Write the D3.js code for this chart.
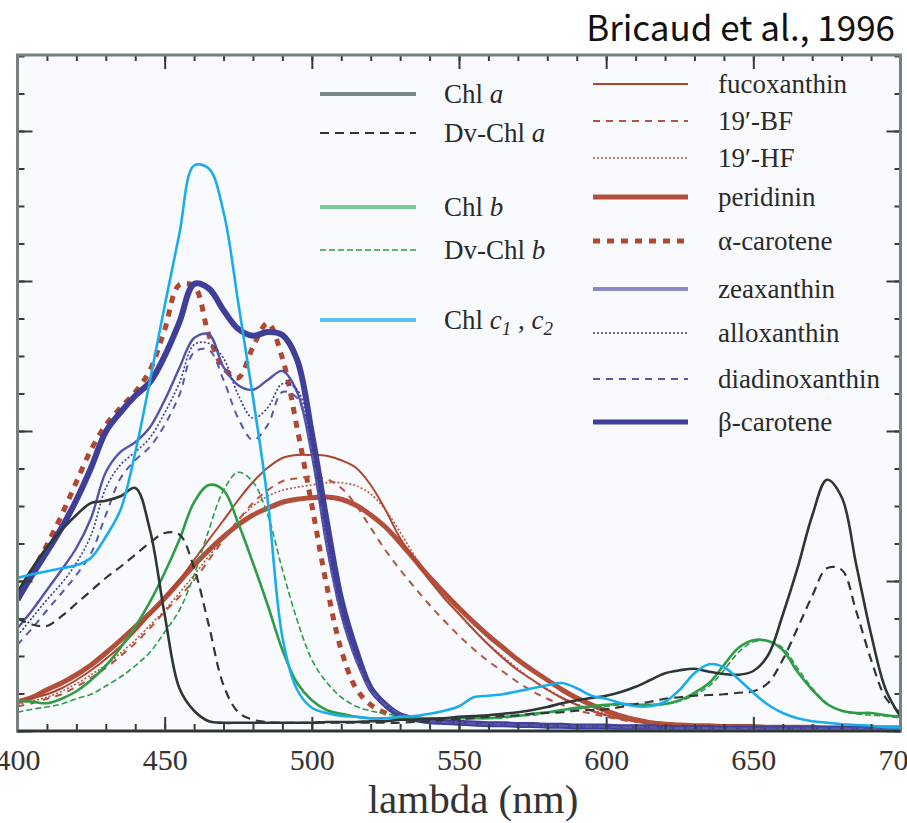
<!DOCTYPE html>
<html>
<head>
<meta charset="utf-8">
<script src="https://cdn.jsdelivr.net/npm/d3@7"></script>
<style>
  body { margin: 0; background: #fff; }
  svg { display: block; }
</style>
</head>
<body>
<svg id="chart" width="907" height="823"></svg>
<script>
// wavelength grid (nm), 5 nm steps
const wavelengths = [400, 405, 410, 415, 420, 425, 430, 435, 440, 445,
  450, 455, 460, 465, 470, 475, 480, 485, 490, 495,
  500, 505, 510, 515, 520, 525, 530, 535, 540, 545,
  550, 555, 560, 565, 570, 575, 580, 585, 590, 595,
  600, 605, 610, 615, 620, 625, 630, 635, 640, 645,
  650, 655, 660, 665, 670, 675, 680, 685, 690, 695, 700];

// specific absorption (x 1e-3)
const chlA = [18.5, 21.7, 24.5, 26.8, 28.8, 30.4, 30.7, 31.3, 32.4, 26.8,
  15.5, 5.7, 2.7, 1.3, 1.1, 1.1, 1.1, 1.1, 1.1, 1.1,
  1.1, 1.2, 1.2, 1.2, 1.3, 1.3, 1.5, 1.5, 1.6, 1.7,
  1.9, 2.0, 2.1, 2.3, 2.5, 2.8, 3.2, 3.7, 4.1, 4.4,
  4.7, 5.2, 5.9, 6.8, 7.7, 8.1, 8.3, 7.9, 7.6, 7.5,
  8.0, 10.1, 15.5, 21.7, 28.7, 33.5, 31.2, 22.1, 12.9, 5.5, 1.9];
const dvChlA = [15.0, 14.2, 14.0, 15.3, 17.0, 18.7, 20.4, 21.9, 23.5, 25.1,
  26.4, 26.2, 21.7, 14.1, 6.1, 2.5, 1.5, 1.2, 1.1, 1.1,
  1.1, 1.1, 1.1, 1.1, 1.1, 1.1, 1.1, 1.2, 1.3, 1.5,
  1.6, 1.7, 1.9, 2.0, 2.1, 2.3, 2.4, 2.5, 2.7, 2.8,
  2.9, 3.2, 3.6, 3.9, 4.3, 4.5, 4.7, 4.8, 4.9, 5.1,
  5.3, 6.4, 9.5, 13.7, 18.0, 21.7, 21.5, 15.9, 9.5, 4.4, 2.4];
const chlB = [4.1, 3.9, 3.7, 4.3, 5.3, 6.8, 8.7, 11.1, 13.9, 17.2,
  21.1, 25.5, 30.5, 32.8, 32.1, 27.7, 22.4, 16.8, 10.8, 6.4,
  4.1, 2.8, 2.3, 1.9, 1.7, 1.7, 1.7, 1.7, 1.7, 1.7,
  1.7, 1.7, 1.7, 1.9, 2.0, 2.3, 2.5, 2.8, 3.1, 3.3,
  3.5, 3.6, 3.5, 3.5, 3.6, 4.1, 5.1, 6.4, 8.8, 11.1,
  12.1, 12.0, 10.8, 7.9, 5.5, 3.6, 2.7, 2.4, 2.4, 2.1, 1.9];
const dvChlB = [2.5, 2.9, 3.2, 3.6, 4.3, 4.9, 6.0, 7.2, 8.7, 10.5,
  13.2, 16.1, 20.8, 26.8, 32.1, 34.5, 33.2, 28.8, 21.5, 14.8,
  9.5, 6.5, 4.5, 3.3, 2.7, 2.3, 2.0, 1.9, 1.7, 1.7,
  1.7, 1.7, 1.7, 1.7, 2.0, 2.1, 2.4, 2.7, 2.9, 3.2,
  3.3, 3.5, 3.5, 3.5, 3.6, 4.0, 4.8, 6.0, 8.1, 10.5,
  11.9, 12.0, 11.1, 8.4, 5.7, 3.7, 2.7, 2.3, 2.1, 2.0, 1.7];
const chlC = [20.4, 20.9, 21.3, 21.7, 22.1, 23.1, 25.9, 29.5, 37.1, 46.7,
  56.7, 66.3, 75.4, 75.0, 69.2, 57.1, 44.5, 30.8, 12.5, 5.5,
  3.1, 2.4, 2.0, 1.9, 1.7, 1.7, 1.9, 2.0, 2.3, 2.7,
  3.3, 4.5, 4.7, 4.9, 5.3, 5.7, 6.1, 6.4, 5.7, 4.7,
  4.3, 3.7, 3.3, 3.3, 3.9, 5.5, 7.7, 8.9, 8.5, 6.9,
  5.1, 3.5, 2.4, 1.7, 1.3, 1.1, 0.9, 0.8, 0.7, 0.5, 0.5];
const fucoxanthin = [4.1, 4.4, 4.9, 5.7, 6.8, 8.1, 9.6, 11.3, 13.3, 15.5,
  17.7, 20.1, 22.8, 25.5, 28.1, 30.8, 33.2, 35.1, 36.4, 36.8,
  36.8, 36.7, 36.1, 35.1, 32.8, 29.5, 25.7, 22.8, 20.1, 17.7,
  15.6, 13.5, 11.5, 9.7, 8.1, 6.8, 5.5, 4.4, 3.5, 2.7,
  2.1, 1.6, 1.3, 1.1, 0.9, 0.8, 0.8, 0.7, 0.7, 0.7,
  0.6, 0.6, 0.6, 0.6, 0.5, 0.5, 0.5, 0.5, 0.4, 0.4, 0.4];
const bf19 = [3.3, 3.7, 4.3, 4.9, 5.9, 7.1, 8.4, 10.0, 11.7, 13.7,
  15.9, 17.9, 20.1, 22.8, 25.5, 28.1, 30.4, 32.1, 33.3, 33.7,
  33.9, 33.6, 32.4, 30.1, 27.1, 24.1, 21.5, 19.1, 16.8, 14.7,
  12.7, 10.9, 9.3, 7.9, 6.5, 5.3, 4.3, 3.5, 2.8, 2.3,
  1.9, 1.5, 1.2, 1.1, 0.9, 0.8, 0.8, 0.7, 0.7, 0.6,
  0.6, 0.6, 0.5, 0.5, 0.5, 0.5, 0.4, 0.4, 0.4, 0.4, 0.4];
const hf19 = [3.6, 4.0, 4.5, 5.3, 6.3, 7.5, 8.8, 10.4, 12.1, 14.1,
  16.1, 18.4, 20.8, 23.3, 25.7, 28.1, 30.0, 31.3, 32.1, 32.5,
  32.8, 33.1, 33.1, 32.7, 31.6, 29.5, 26.5, 23.3, 20.4, 17.9,
  15.6, 13.5, 11.6, 9.9, 8.3, 6.8, 5.6, 4.5, 3.6, 2.8,
  2.3, 1.7, 1.5, 1.2, 1.1, 0.9, 0.8, 0.7, 0.7, 0.6,
  0.6, 0.6, 0.5, 0.5, 0.5, 0.5, 0.4, 0.4, 0.4, 0.4, 0.4];
const peridinin = [3.9, 4.5, 5.5, 6.4, 7.5, 8.8, 10.4, 12.1, 13.9, 15.7,
  17.7, 19.9, 22.1, 24.1, 25.9, 27.5, 28.8, 29.7, 30.5, 30.9,
  31.1, 31.2, 30.9, 30.1, 28.8, 27.2, 25.1, 22.8, 20.5, 18.4,
  16.4, 14.5, 12.7, 11.1, 9.5, 8.1, 6.8, 5.5, 4.4, 3.5,
  2.7, 2.0, 1.5, 1.1, 0.9, 0.8, 0.7, 0.7, 0.6, 0.6,
  0.6, 0.5, 0.5, 0.5, 0.5, 0.4, 0.4, 0.4, 0.4, 0.4, 0.4];
const alphaCarotene = [17.7, 21.2, 24.8, 28.8, 33.2, 37.5, 40.8, 43.1, 45.2, 48.1,
  53.5, 59.5, 59.3, 52.8, 48.4, 47.1, 51.2, 54.4, 49.7, 40.4,
  30.1, 19.5, 10.8, 5.7, 3.5, 2.4, 1.7, 1.5, 1.3, 1.2,
  1.1, 1.0, 0.9, 0.9, 0.8, 0.8, 0.7, 0.7, 0.6, 0.6,
  0.6, 0.5, 0.5, 0.5, 0.5, 0.4, 0.4, 0.4, 0.4, 0.4,
  0.4, 0.4, 0.4, 0.3, 0.3, 0.3, 0.3, 0.3, 0.3, 0.3, 0.3];
const zeaxanthin = [13.7, 16.1, 18.8, 21.5, 24.4, 28.4, 34.5, 37.2, 38.5, 40.5,
  44.1, 48.4, 52.4, 52.9, 48.5, 46.1, 45.5, 46.8, 48.0, 45.2,
  36.8, 24.8, 15.5, 9.5, 5.5, 3.5, 2.3, 1.7, 1.3, 1.2,
  1.1, 1.0, 0.9, 0.9, 0.8, 0.8, 0.7, 0.7, 0.6, 0.6,
  0.6, 0.5, 0.5, 0.5, 0.4, 0.4, 0.4, 0.4, 0.3, 0.3,
  0.3, 0.3, 0.3, 0.3, 0.3, 0.3, 0.3, 0.3, 0.3, 0.3, 0.3];
const alloxanthin = [12.7, 15.1, 17.5, 19.7, 22.4, 26.1, 32.4, 35.5, 37.2, 39.1,
  42.4, 46.4, 51.5, 51.7, 49.7, 44.8, 41.7, 43.1, 46.3, 45.5,
  37.5, 25.5, 15.9, 9.7, 5.5, 3.5, 2.3, 1.7, 1.3, 1.2,
  1.1, 1.0, 0.9, 0.9, 0.8, 0.8, 0.7, 0.7, 0.6, 0.6,
  0.6, 0.5, 0.5, 0.5, 0.4, 0.4, 0.4, 0.4, 0.3, 0.3,
  0.3, 0.3, 0.3, 0.3, 0.3, 0.3, 0.3, 0.3, 0.3, 0.3, 0.3];
const diadinoxanthin = [11.5, 13.7, 16.1, 18.4, 20.8, 23.7, 28.8, 33.7, 36.1, 37.9,
  40.8, 44.8, 50.5, 50.8, 46.8, 41.7, 38.8, 40.8, 45.2, 44.4,
  37.2, 24.8, 15.5, 9.5, 5.5, 3.5, 2.3, 1.7, 1.3, 1.2,
  1.1, 1.0, 0.9, 0.9, 0.8, 0.8, 0.7, 0.7, 0.6, 0.6,
  0.6, 0.5, 0.5, 0.5, 0.4, 0.4, 0.4, 0.4, 0.3, 0.3,
  0.3, 0.3, 0.3, 0.3, 0.3, 0.3, 0.3, 0.3, 0.3, 0.3, 0.3];
const betaCarotene = [17.5, 20.8, 23.9, 27.1, 30.8, 35.1, 39.9, 42.5, 44.7, 46.5,
  50.0, 54.5, 59.6, 59.0, 56.1, 53.6, 52.7, 53.2, 52.8, 49.5,
  39.7, 28.1, 17.5, 10.8, 5.7, 3.5, 2.1, 1.6, 1.3, 1.2,
  1.1, 1.0, 0.9, 0.9, 0.8, 0.8, 0.7, 0.7, 0.6, 0.6,
  0.6, 0.5, 0.5, 0.5, 0.4, 0.4, 0.4, 0.4, 0.3, 0.3,
  0.3, 0.3, 0.3, 0.3, 0.3, 0.3, 0.3, 0.3, 0.3, 0.3, 0.3];

const xMajorTicks = [400, 450, 500, 550, 600, 650, 700];

// label parts: [text, italic, subscript]
const pigments = [
  { values: chlA, label: [["Chl ", 0, 0], ["a", 1, 0]], color: "#2e3636", width: 2.6, lcolor: "#7b8686", lwidth: 4, col: 0, ly: 94 },
  { values: dvChlA, label: [["Dv-Chl ", 0, 0], ["a", 1, 0]], color: "#2e3636", width: 2.2, dash: "9,6", col: 0, ly: 133 },
  { values: chlB, label: [["Chl ", 0, 0], ["b", 1, 0]], color: "#2f9c47", width: 2.6, lcolor: "#78cb93", lwidth: 4, col: 0, ly: 207 },
  { values: dvChlB, label: [["Dv-Chl ", 0, 0], ["b", 1, 0]], color: "#2f9c47", width: 1.6, dash: "6,3", col: 0, ly: 250 },
  { values: chlC, label: [["Chl ", 0, 0], ["c", 1, 0], ["1", 1, 1], [" , ", 0, 0], ["c", 1, 0], ["2", 1, 1]], color: "#1badea", width: 2.6, lcolor: "#5bc4ee", lwidth: 4, col: 0, ly: 320 },
  { values: fucoxanthin, label: [["fucoxanthin", 0, 0]], color: "#b0452f", width: 2, col: 1, ly: 84 },
  { values: bf19, label: [["19\u2032-BF", 0, 0]], color: "#b5553f", width: 2, dash: "7,6", col: 1, ly: 121 },
  { values: hf19, label: [["19\u2032-HF", 0, 0]], color: "#b5553f", width: 1.6, dash: "2,2", col: 1, ly: 158 },
  { values: peridinin, label: [["peridinin", 0, 0]], color: "#b24f3a", width: 5, col: 1, ly: 197 },
  { values: alphaCarotene, label: [["\u03b1-carotene", 0, 0]], color: "#b0472f", width: 5, dash: "7,7", col: 1, ly: 241 },
  { values: zeaxanthin, label: [["zeaxanthin", 0, 0]], color: "#5553a8", width: 2.4, lcolor: "#8d8bc6", lwidth: 4, col: 1, ly: 289 },
  { values: alloxanthin, label: [["alloxanthin", 0, 0]], color: "#3b3994", width: 1.6, dash: "2,2", col: 1, ly: 333 },
  { values: diadinoxanthin, label: [["diadinoxanthin", 0, 0]], color: "#5a58aa", width: 2, dash: "7,6", col: 1, ly: 379 },
  { values: betaCarotene, label: [["\u03b2-carotene", 0, 0]], color: "#3f3f98", width: 6, lwidth: 5, col: 1, ly: 422 }
];
const drawOrder = [8, 9, 5, 6, 7, 13, 10, 11, 12, 2, 3, 0, 1, 4];

const svg = d3.select("#chart");
const plotLeft = 17.5, plotRight = 900.5, plotTop = 55, plotBottom = 731;
const x = d3.scaleLinear().domain([400, 700]).range([plotLeft, plotRight]);
const y = d3.scaleLinear().domain([0, 90.13]).range([plotBottom, plotTop]);

// title
svg.append("text")
  .attr("x", 895).attr("y", 41)
  .attr("text-anchor", "end")
  .style("font-family", "'Noto Sans CJK KR', 'Noto Sans', sans-serif")
  .style("font-size", "35px")
  .style("fill", "#111")
  .text("Bricaud et al., 1996");

// plot background
svg.append("rect")
  .attr("x", plotLeft).attr("y", plotTop)
  .attr("width", plotRight - plotLeft).attr("height", plotBottom - plotTop)
  .attr("fill", "#f8fafd");

svg.append("clipPath").attr("id", "clip")
  .append("rect")
  .attr("x", plotLeft).attr("y", plotTop)
  .attr("width", plotRight - plotLeft).attr("height", plotBottom - plotTop);

const line = (vals) => d3.line()
  .x((d, i) => x(wavelengths[i]))
  .y((d) => y(d))
  .curve(d3.curveCatmullRom.alpha(0.5))(vals);

const curves = svg.append("g").attr("clip-path", "url(#clip)");
drawOrder.forEach((k) => {
  const p = pigments[k];
  curves.append("path")
    .attr("d", line(p.values))
    .attr("fill", "none")
    .attr("stroke", p.color)
    .attr("stroke-width", p.width)
    .attr("stroke-dasharray", p.dash || null)
    .attr("stroke-linejoin", "round");
});

// axes, ticks pointing inward
const tickStyle = (g) => {
  g.select(".domain").remove();
  g.selectAll(".tick line").attr("stroke", "#343d3d").attr("stroke-width", 2);
};
const minorX = d3.range(400, 701, 10);
const minorY = d3.range(0, 91, 5);
const majorY = [0, 20, 40, 60, 80];

svg.append("g").attr("transform", `translate(0,${plotBottom})`)
  .call(d3.axisBottom(x).tickValues(minorX).tickSize(-7).tickFormat(""))
  .call(tickStyle);
const xAxis = svg.append("g").attr("transform", `translate(0,${plotBottom})`)
  .call(d3.axisBottom(x).tickValues(xMajorTicks).tickSize(-14).tickPadding(18).tickFormat(d3.format("d")))
  .call(tickStyle);
xAxis.selectAll("text")
  .style("font-family", "'Liberation Serif', serif")
  .style("font-size", "30px")
  .style("fill", "#333");

svg.append("g").attr("transform", `translate(0,${plotTop})`)
  .call(d3.axisTop(x).tickValues(minorX).tickSize(-6).tickFormat(""))
  .call(tickStyle);
svg.append("g").attr("transform", `translate(0,${plotTop})`)
  .call(d3.axisTop(x).tickValues(xMajorTicks).tickSize(-14).tickFormat(""))
  .call(tickStyle);

svg.append("g").attr("transform", `translate(${plotLeft},0)`)
  .call(d3.axisLeft(y).tickValues(minorY).tickSize(-7).tickFormat(""))
  .call(tickStyle);
svg.append("g").attr("transform", `translate(${plotLeft},0)`)
  .call(d3.axisLeft(y).tickValues(majorY).tickSize(-15).tickFormat(""))
  .call(tickStyle);
svg.append("g").attr("transform", `translate(${plotRight},0)`)
  .call(d3.axisRight(y).tickValues(minorY).tickSize(-6).tickFormat(""))
  .call(tickStyle);
svg.append("g").attr("transform", `translate(${plotRight},0)`)
  .call(d3.axisRight(y).tickValues(majorY).tickSize(-14).tickFormat(""))
  .call(tickStyle);

svg.append("rect")
  .attr("x", plotLeft).attr("y", plotTop)
  .attr("width", plotRight - plotLeft).attr("height", plotBottom - plotTop)
  .attr("fill", "none")
  .attr("stroke", "#76807f")
  .attr("stroke-width", 3);
svg.append("line")
  .attr("x1", plotLeft).attr("x2", plotRight)
  .attr("y1", plotBottom).attr("y2", plotBottom)
  .attr("stroke", "#2c3434").attr("stroke-width", 2.5);

svg.append("text")
  .attr("x", 473).attr("y", 813)
  .attr("text-anchor", "middle")
  .style("font-family", "'Liberation Serif', serif")
  .style("font-size", "41px")
  .style("fill", "#333")
  .text("lambda (nm)");

// legend
const legendCols = [{ x1: 320, x2: 416, tx: 444 }, { x1: 593, x2: 688, tx: 718 }];
const legend = svg.append("g");
pigments.forEach((p) => {
  const c = legendCols[p.col];
  legend.append("line")
    .attr("x1", c.x1).attr("x2", c.x2)
    .attr("y1", p.ly).attr("y2", p.ly)
    .attr("stroke", p.lcolor || p.color)
    .attr("stroke-width", p.lwidth || p.width)
    .attr("stroke-dasharray", p.dash || null);
  const t = legend.append("text")
    .attr("x", c.tx).attr("y", p.ly + 9)
    .style("font-family", "'Liberation Serif', serif")
    .style("font-size", "27px")
    .style("fill", "#2a2a2a");
  p.label.forEach(([s, it, sub], i) => {
    const prevSub = i > 0 && p.label[i - 1][2];
    t.append("tspan")
      .attr("dy", sub ? 6 : (prevSub ? -6 : 0))
      .style("font-style", it ? "italic" : "normal")
      .style("font-size", sub ? "19px" : null)
      .text(s);
  });
});
</script>
</body>
</html>
